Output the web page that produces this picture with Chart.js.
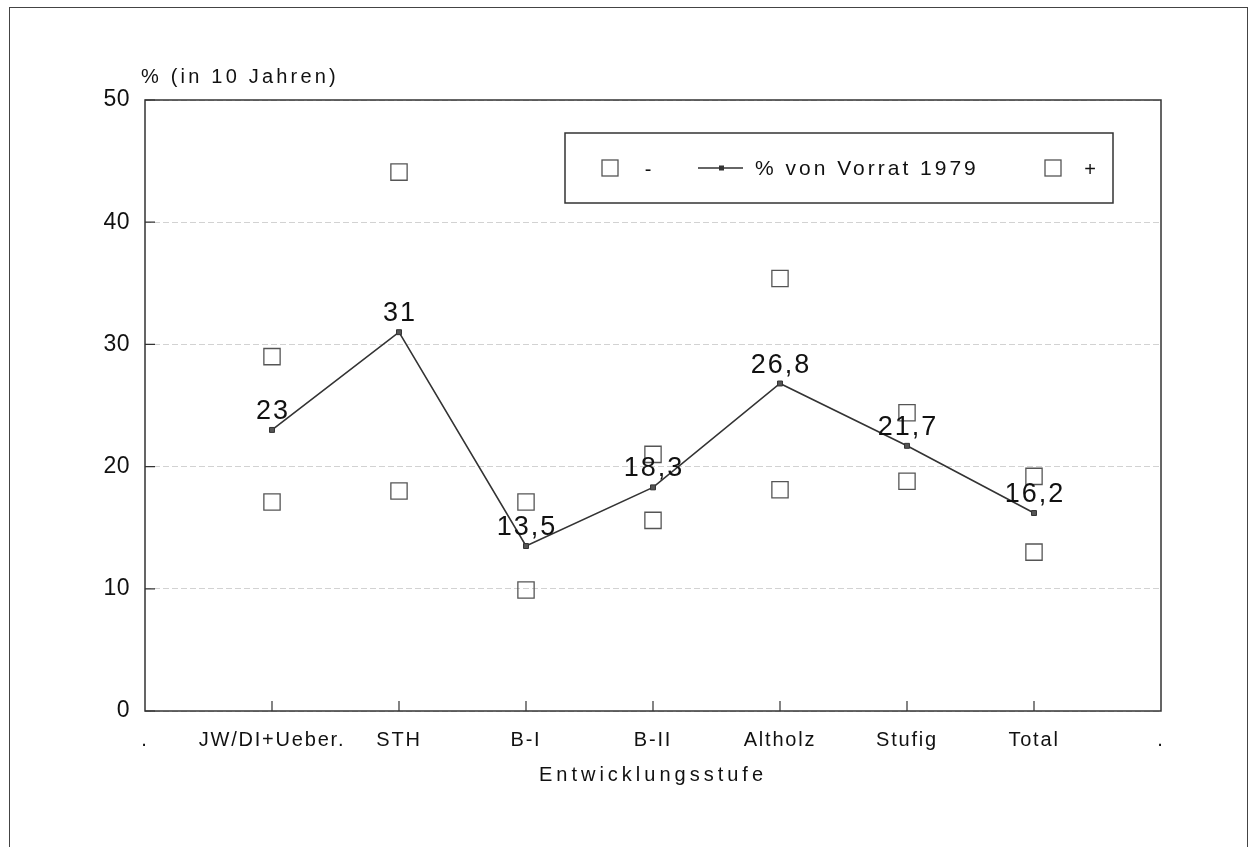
<!DOCTYPE html>
<html>
<head>
<meta charset="utf-8">
<script src="https://cdn.jsdelivr.net/npm/chart.js@4.4.1/dist/chart.umd.min.js"></script>
<style>
  html, body { margin: 0; padding: 0; background: #fff; overflow: hidden; }
  #frame { position: absolute; left: 9px; top: 7px; width: 1237px; height: 900px; border: 1.5px solid #444; }
  #chart { position: absolute; left: 0; top: 0; }
</style>
</head>
<body>
<div id="frame"></div>
<canvas id="chart" width="1249" height="847"></canvas>
<script>
'use strict';

const categories = ['.', 'JW/DI+Ueber.', 'STH', 'B-I', 'B-II', 'Altholz', 'Stufig', 'Total', '.'];
const minusValues = [null, 17.1, 18.0, 9.9, 15.6, 18.1, 18.8, 13.0, null];
const vorratValues = [null, 23, 31, 13.5, 18.3, 26.8, 21.7, 16.2, null];
const plusValues = [null, 29.0, 44.1, 17.1, 21.0, 35.4, 24.4, 19.2, null];
const yTicks = [0, 10, 20, 30, 40, 50];
const yTitle = '% (in 10 Jahren)';
const xTitle = 'Entwicklungsstufe';

const FONT = '"Liberation Sans", Arial, Helvetica, sans-serif';
const INK = '#111';
const BOX = '#555';

function formatValue(v) {
  return String(v).replace('.', ',');
}

// canvas letterSpacing per scale part (ticks/title are drawn by Chart.js)
function withSpacing(chart, scale, fnName, spacing) {
  const flag = '_sp_' + fnName;
  if (scale[flag]) return;
  const orig = scale[fnName].bind(scale);
  scale[fnName] = (...args) => {
    const prev = chart.ctx.letterSpacing;
    chart.ctx.letterSpacing = spacing;
    orig(...args);
    chart.ctx.letterSpacing = prev;
  };
  scale[flag] = true;
}

const paperPlugin = {
  id: 'paper',
  beforeDraw(chart) {
    const { x, y } = chart.scales;
    withSpacing(chart, x, 'drawLabels', '1.8px');
    withSpacing(chart, x, 'drawTitle', '4px');
    withSpacing(chart, y, 'drawLabels', '0.5px');
  },
  afterDraw(chart) {
    const { ctx, chartArea: a, scales: { x, y } } = chart;
    ctx.save();
    ctx.letterSpacing = '0px';

    // plot frame
    ctx.strokeStyle = '#333';
    ctx.lineWidth = 1.5;
    ctx.strokeRect(a.left, a.top, a.right - a.left, a.bottom - a.top);

    // inward tick marks
    ctx.beginPath();
    y.ticks.forEach((t, i) => {
      const py = y.getPixelForTick(i);
      ctx.moveTo(a.left, py);
      ctx.lineTo(a.left + 10, py);
    });
    for (let i = 1; i < categories.length - 1; i++) {
      const px = x.getPixelForTick(i);
      ctx.moveTo(px, a.bottom);
      ctx.lineTo(px, a.bottom - 10);
    }
    ctx.lineWidth = 1.2;
    ctx.stroke();

    // value labels on the line
    const meta = chart.getDatasetMeta(1);
    ctx.font = `27px ${FONT}`;
    ctx.letterSpacing = '2px';
    ctx.fillStyle = INK;
    ctx.textAlign = 'center';
    ctx.textBaseline = 'alphabetic';
    meta.data.forEach((pt, i) => {
      const v = vorratValues[i];
      if (v === null) return;
      ctx.fillText(formatValue(v), pt.x + 1, pt.y - 11);
    });

    // y title at top left
    ctx.font = `20px ${FONT}`;
    ctx.letterSpacing = '3.2px';
    ctx.textAlign = 'left';
    ctx.fillText(yTitle, 141, 83);

    // legend box
    const ds = chart.data.datasets;
    ctx.lineWidth = 1.5;
    ctx.strokeStyle = '#333';
    ctx.strokeRect(565, 133, 548, 70);
    const cy = 168;
    ctx.strokeStyle = BOX;
    ctx.lineWidth = 1.3;
    ctx.strokeRect(602, cy - 8, 16, 16);
    ctx.strokeRect(1045, cy - 8, 16, 16);
    ctx.font = `20px ${FONT}`;
    ctx.letterSpacing = '0px';
    ctx.textAlign = 'center';
    ctx.textBaseline = 'middle';
    ctx.fillText(ds[0].label, 648, cy + 2);
    ctx.fillText(ds[2].label, 1090, cy + 2);
    ctx.strokeStyle = '#333';
    ctx.beginPath();
    ctx.moveTo(698, cy);
    ctx.lineTo(743, cy);
    ctx.stroke();
    ctx.fillStyle = '#333';
    ctx.fillRect(719, cy - 2.5, 5, 5);
    ctx.fillStyle = INK;
    ctx.font = `21px ${FONT}`;
    ctx.letterSpacing = '3px';
    ctx.textAlign = 'left';
    ctx.fillText(ds[1].label, 755, cy + 1);

    ctx.restore();
  }
};

new Chart(document.getElementById('chart'), {
  type: 'line',
  data: {
    labels: categories,
    datasets: [
      {
        label: '-',
        data: minusValues,
        showLine: false,
        pointStyle: 'rect',
        pointRadius: 11.5,
        pointBackgroundColor: 'rgba(255,255,255,0)',
        pointBorderColor: BOX,
        pointBorderWidth: 1.3,
      },
      {
        label: '% von Vorrat 1979',
        data: vorratValues,
        borderColor: '#333',
        borderWidth: 1.6,
        tension: 0,
        pointStyle: 'rect',
        pointRadius: 3.5,
        pointBackgroundColor: '#555',
        pointBorderColor: '#333',
        pointBorderWidth: 1,
      },
      {
        label: '+',
        data: plusValues,
        showLine: false,
        pointStyle: 'rect',
        pointRadius: 11.5,
        pointBackgroundColor: 'rgba(255,255,255,0)',
        pointBorderColor: BOX,
        pointBorderWidth: 1.3,
      },
    ],
  },
  options: {
    responsive: false,
    animation: false,
    devicePixelRatio: 1,
    layout: { padding: { left: 0, top: 100, right: 88, bottom: 0 } },
    plugins: {
      legend: { display: false },
      tooltip: { enabled: false },
    },
    scales: {
      x: {
        grid: { display: false, drawTicks: false },
        border: { display: false },
        ticks: {
          autoSkip: false,
          maxRotation: 0,
          padding: 17,
          color: INK,
          font: { family: FONT, size: 20 },
        },
        title: {
          display: true,
          text: xTitle,
          color: INK,
          font: { family: FONT, size: 20, lineHeight: 1.2 },
          padding: { top: 0, bottom: 60 },
        },
        afterFit(scale) { scale.height = 136; },
      },
      y: {
        min: 0,
        max: 50,
        afterBuildTicks(scale) { scale.ticks = yTicks.map((v) => ({ value: v })); },
        grid: { color: '#d2d2d2', lineWidth: 1, drawTicks: false },
        border: { display: false, dash: [6, 3] },
        ticks: {
          padding: 15,
          color: INK,
          font: { family: FONT, size: 23 },
        },
        afterFit(scale) { scale.width = 145; },
      },
    },
  },
  plugins: [paperPlugin],
});
</script>
</body>
</html>
